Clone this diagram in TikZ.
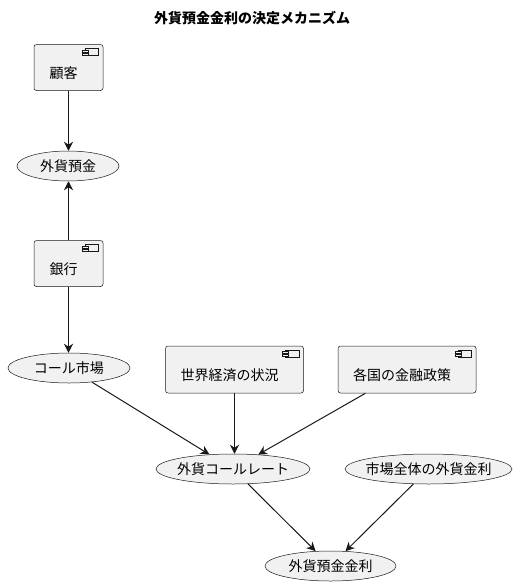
\documentclass[tikz,border=0pt]{standalone}
\usepackage{fontspec}
\setmainfont{Noto Sans CJK JP}
\usetikzlibrary{arrows.meta,calc,shapes.geometric}
\definecolor{bfill}{HTML}{F1F1F1}
\definecolor{bline}{HTML}{181818}
\tikzset{
  x=1pt, y=-1pt,
  comp/.style={draw=bline, fill=bfill, line width=0.5pt, rounded corners=2.5pt, inner sep=0pt},
  uc/.style={draw=bline, fill=bfill, line width=0.5pt, ellipse, inner sep=0pt},
  lbl/.style={font=\fontsize{14}{16}\selectfont, text=black, inner sep=0pt},
  conn/.style={draw=bline, line width=1pt, -{Stealth[length=9pt,width=9pt,inset=3pt]}},
}
\newcommand{\compicon}[1]{%
  \draw[bline, line width=0.5pt, fill=bfill] ($(#1.north east)+(-18.5,4)$) rectangle ($(#1.north east)+(-5,11)$);
  \draw[bline, line width=0.5pt, fill=bfill] ($(#1.north east)+(-21.5,5.5)$) rectangle ($(#1.north east)+(-15.5,7.5)$);
  \draw[bline, line width=0.5pt, fill=bfill] ($(#1.north east)+(-21.5,8.5)$) rectangle ($(#1.north east)+(-15.5,10.5)$);
}
\begin{document}
\begin{tikzpicture}
\useasboundingbox (0,0) rectangle (517,587);
% title
\node[font=\fontsize{14}{16}\selectfont\bfseries] (title) at (252,18) {外貨預金金利の決定メカニズム};
% components
\node[comp, minimum width=69pt, minimum height=46pt] (kokyaku) at (68.5,67.5) {};
\node[lbl] (kokyakuT) at (63.5,73) {顧客};
\compicon{kokyaku}
\node[comp, minimum width=69pt, minimum height=46pt] (ginko) at (68.5,263.5) {};
\node[lbl] (ginkoT) at (63.5,269) {銀行};
\compicon{ginko}
\node[comp, minimum width=138pt, minimum height=47pt] (sekai) at (234.5,369.5) {};
\node[lbl] (sekaiT) at (229.5,375) {世界経済の状況};
\compicon{sekai}
\node[comp, minimum width=138pt, minimum height=47pt] (kakkoku) at (407,369.5) {};
\node[lbl] (kakkokuT) at (402,375) {各国の金融政策};
\compicon{kakkoku}
% use cases
\node[uc, minimum width=102pt, minimum height=30pt] (yokin) at (68,166) {};
\node[lbl] at (yokin.center) {外貨預金};
\node[uc, minimum width=122pt, minimum height=30pt] (call) at (69,368) {};
\node[lbl] at (call.center) {コール市場};
\node[uc, minimum width=154pt, minimum height=30pt] (rate) at (233,469) {};
\node[lbl] at (rate.center) {外貨コールレート};
\node[uc, minimum width=167pt, minimum height=30pt] (shijo) at (428.5,469) {};
\node[lbl] at (shijo.center) {市場全体の外貨金利};
\node[uc, minimum width=131pt, minimum height=30pt] (kinri) at (330.5,566) {};
\node[lbl] at (kinri.center) {外貨預金金利};
% connectors
\draw[conn] (kokyaku.south) -- (kokyaku.south |- yokin.north);
\draw[conn] (ginko.north) -- (ginko.north |- yokin.south);
\draw[conn] (ginko.south) -- (ginko.south |- call.north);
\draw[conn] (call) -- (rate);
\draw[conn] (sekai.south) -- (sekai.south |- rate.north);
\draw[conn] (kakkoku) -- (rate);
\draw[conn] (rate) -- (kinri);
\draw[conn] (shijo) -- (kinri);
\end{tikzpicture}
\end{document}
